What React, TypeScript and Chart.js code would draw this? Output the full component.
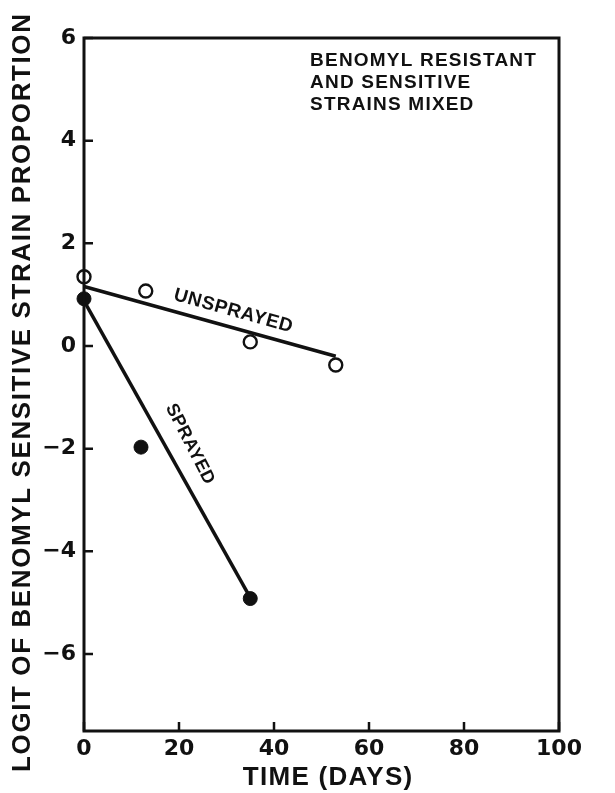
import React, { useEffect, useRef } from "react";
import { Chart, registerables } from "chart.js";
Chart.register(...registerables);

const X_TICKS = [0, 20, 40, 60, 80, 100];
const Y_TICKS = [6, 4, 2, 0, -2, -4, -6];
const UNSPRAYED_DAYS = [0, 13, 35, 53];
const UNSPRAYED_LOGIT = [1.35, 1.07, 0.08, -0.37];
const SPRAYED_DAYS = [0, 12, 35];
const SPRAYED_LOGIT = [0.92, -1.97, -4.92];
const UNSPRAYED_FIT_DAYS = [0, 53];
const UNSPRAYED_FIT = [1.16, -0.2];
const SPRAYED_FIT_DAYS = [0, 35];
const SPRAYED_FIT = [0.88, -4.9];
const NOTE_LINES = ["BENOMYL RESISTANT", "AND SENSITIVE", "STRAINS MIXED"];
const X_TITLE = "TIME (DAYS)";
const Y_TITLE = "LOGIT OF BENOMYL SENSITIVE STRAIN PROPORTION";
const UNSPRAYED_LABEL = "UNSPRAYED";
const SPRAYED_LABEL = "SPRAYED";

const INK = "#111";
const FONT = "'Liberation Sans', Arial, sans-serif";

const zip = (xs: number[], ys: number[]) => xs.map((x, i) => ({ x, y: ys[i] }));

const decor = {
  id: "decor",
  afterDraw(chart: any) {
    const { ctx, chartArea: a, scales } = chart;
    const xs = scales.x;
    const ys = scales.y;
    ctx.save();
    ctx.strokeStyle = INK;
    ctx.fillStyle = INK;
    ctx.lineWidth = 3;
    ctx.strokeRect(a.left, a.top, a.right - a.left, a.bottom - a.top);
    ctx.lineWidth = 2.5;
    ctx.beginPath();
    Y_TICKS.forEach((v) => {
      const y = ys.getPixelForValue(v);
      ctx.moveTo(a.left, y);
      ctx.lineTo(a.left + 9, y);
    });
    X_TICKS.forEach((v) => {
      const x = xs.getPixelForValue(v);
      ctx.moveTo(x, a.bottom);
      ctx.lineTo(x, a.bottom - 9);
    });
    ctx.stroke();

    const text = (s: string, x: number, y: number, font: string, spacing: number, angle = 0, align: CanvasTextAlign = "center") => {
      ctx.save();
      ctx.translate(x, y);
      ctx.rotate(angle);
      ctx.font = font;
      (ctx as any).letterSpacing = spacing + "px";
      ctx.textAlign = align;
      ctx.textBaseline = "middle";
      ctx.fillText(s, align === "center" ? spacing / 2 : 0, 0);
      ctx.restore();
    };

    // axis titles
    text(X_TITLE, (a.left + a.right) / 2 + 6, a.bottom + 47, `bold 26px ${FONT}`, 1.3);
    text(Y_TITLE, 22.5, 393, `bold 26px ${FONT}`, 1.6, -Math.PI / 2);

    // note
    NOTE_LINES.forEach((s, i) => {
      text(s, xs.getPixelForValue(47.6), ys.getPixelForValue(5.55) + i * 22, `bold 19px ${FONT}`, 1.2, 0, "left");
    });

    // line labels
    text(UNSPRAYED_LABEL, xs.getPixelForValue(31.4), ys.getPixelForValue(0.68), `bold 19px ${FONT}`, 0.6, (15.5 * Math.PI) / 180);
    text(SPRAYED_LABEL, xs.getPixelForValue(22.3), ys.getPixelForValue(-1.91), `bold 18px ${FONT}`, 0.4, (63 * Math.PI) / 180);
    ctx.restore();
  },
};

export default function App() {
  const ref = useRef<HTMLCanvasElement | null>(null);
  useEffect(() => {
    if (!ref.current) return;
    const chart = new Chart(ref.current, {
      type: "scatter",
      data: {
        datasets: [
          {
            label: "Unsprayed",
            data: zip(UNSPRAYED_DAYS, UNSPRAYED_LOGIT),
            pointRadius: 6.5,
            pointBorderWidth: 2.4,
            pointBackgroundColor: "#fff",
            pointBorderColor: INK,
            showLine: false,
            clip: false,
          },
          {
            label: "Sprayed",
            data: zip(SPRAYED_DAYS, SPRAYED_LOGIT),
            pointRadius: 7,
            pointBorderWidth: 1,
            pointBackgroundColor: INK,
            pointBorderColor: INK,
            showLine: false,
            clip: false,
          },
          {
            label: "Unsprayed fit",
            data: zip(UNSPRAYED_FIT_DAYS, UNSPRAYED_FIT),
            showLine: true,
            borderColor: INK,
            borderWidth: 3.5,
            pointRadius: 0,
            clip: false,
          },
          {
            label: "Sprayed fit",
            data: zip(SPRAYED_FIT_DAYS, SPRAYED_FIT),
            showLine: true,
            borderColor: INK,
            borderWidth: 3.5,
            pointRadius: 0,
            clip: false,
          },
        ],
      },
      options: {
        animation: false,
        responsive: false,
        maintainAspectRatio: false,
        events: [],
        layout: { padding: { top: 38, right: 56, left: 0, bottom: 0 } },
        plugins: { legend: { display: false }, tooltip: { enabled: false } },
        scales: {
          x: {
            type: "linear",
            min: 0,
            max: 100,
            grid: { display: false, drawTicks: false },
            border: { display: false },
            afterBuildTicks: (s: any) => {
              s.ticks = X_TICKS.map((v) => ({ value: v }));
            },
            afterFit: (s: any) => {
              s.height = 62;
            },
            ticks: {
              padding: 5,
              color: INK,
              font: { family: "'DejaVu Sans'", size: 22, weight: "bold" },
              autoSkip: false,
              maxRotation: 0,
            },
          },
          y: {
            type: "linear",
            min: -7.5,
            max: 6,
            grid: { display: false, drawTicks: false },
            border: { display: false },
            afterBuildTicks: (s: any) => {
              s.ticks = Y_TICKS.map((v) => ({ value: v }));
            },
            afterFit: (s: any) => {
              s.width = 84;
            },
            ticks: {
              padding: 8,
              color: INK,
              font: { family: "'DejaVu Sans'", size: 22, weight: "bold" },
              callback: (v: any) => String(v).replace("-", "\u2212"),
            },
          },
        },
      },
      plugins: [decor],
    });
    return () => chart.destroy();
  }, []);
  return (
    <div style={{ position: "absolute", left: 0, top: 0, width: 615, height: 793, background: "#fff" }}>
      <canvas ref={ref} width={615} height={793} style={{ display: "block" }} />
    </div>
  );
}
